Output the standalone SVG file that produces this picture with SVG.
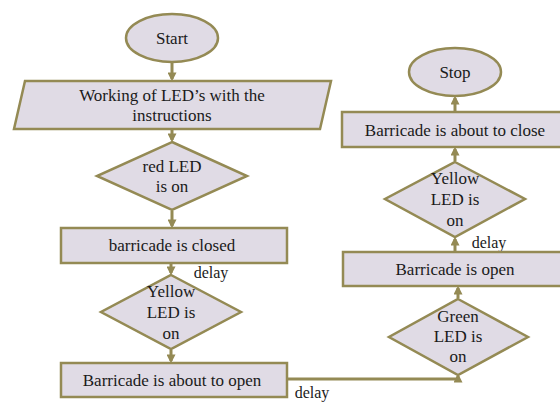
<svg xmlns="http://www.w3.org/2000/svg" width="560" height="405" viewBox="0 0 560 405">
<defs>
<style>
.s{fill:#e0dbe5;stroke:#948a54;stroke-width:2.5}
.t{font-family:'Liberation Serif','DejaVu Serif',serif;font-size:17px;fill:#1a1a1a;text-anchor:middle}
.d{font-family:'Liberation Serif','DejaVu Serif',serif;font-size:16px;fill:#1a1a1a;text-anchor:middle}
.c{fill:none;stroke:#948a54;stroke-width:3}
</style>
<marker id="a" markerWidth="3" markerHeight="3" refX="2.2" refY="1.5" orient="auto" markerUnits="strokeWidth">
<path d="M0,0 L3,1.5 L0,3 Z" fill="#948a54"/>
</marker>
</defs>
<rect width="560" height="405" fill="#fff"/>
<g id="connectors">
<line class="c" x1="172" y1="62" x2="172" y2="79" marker-end="url(#a)"/>
<line class="c" x1="172" y1="130" x2="172" y2="140" marker-end="url(#a)"/>
<line class="c" x1="172" y1="211" x2="172" y2="226" marker-end="url(#a)"/>
<line class="c" x1="171" y1="264" x2="171" y2="273" marker-end="url(#a)"/>
<line class="c" x1="171" y1="350" x2="171" y2="361" marker-end="url(#a)"/>
<polyline class="c" points="288,379 458,379 458,376" marker-end="url(#a)"/>
<line class="c" x1="458" y1="298" x2="458" y2="288" marker-end="url(#a)"/>
<line class="c" x1="455" y1="251" x2="455" y2="239" marker-end="url(#a)"/>
<line class="c" x1="455" y1="161" x2="455" y2="149" marker-end="url(#a)"/>
<line class="c" x1="455" y1="111" x2="455" y2="98" marker-end="url(#a)"/>
<text class="d" x="211" y="278">delay</text>
<text class="d" x="312" y="398">delay</text>
<text class="d" x="489" y="248">delay</text>
</g>
<g id="start">
<ellipse class="s" cx="172" cy="38" rx="46" ry="24"/>
<text class="t" x="172" y="44">Start</text>
</g>
<g id="working">
<polygon class="s" points="25,81 331,81 320,129 14,129"/>
<text class="t" x="172" y="101">Working of LED’s with the</text>
<text class="t" x="172" y="121">instructions</text>
</g>
<g id="redled">
<polygon class="s" points="172,142 247,176 172,210 97,176"/>
<text class="t" x="172" y="172">red LED</text>
<text class="t" x="172" y="192">is on</text>
</g>
<g id="closed">
<rect class="s" x="61" y="228" width="226" height="35"/>
<text class="t" x="172" y="251">barricade is closed</text>
</g>
<g id="yellow1">
<polygon class="s" points="171,275 241,312 171,349 101,312"/>
<text class="t" x="171" y="297">Yellow</text>
<text class="t" x="171" y="318">LED is</text>
<text class="t" x="171" y="339">on</text>
</g>
<g id="abouttoopen">
<rect class="s" x="61" y="363" width="226" height="34"/>
<text class="t" x="172" y="386">Barricade is about to open</text>
</g>
<g id="green">
<polygon class="s" points="458,299 528,337 458,375 389,337"/>
<text class="t" x="458" y="322">Green</text>
<text class="t" x="458" y="342">LED is</text>
<text class="t" x="458" y="362">on</text>
</g>
<g id="open">
<rect class="s" x="343" y="252" width="227" height="34"/>
<text class="t" x="455" y="275">Barricade is open</text>
</g>
<g id="yellow2">
<polygon class="s" points="455,162 525,199 455,237 385,199"/>
<text class="t" x="455" y="184">Yellow</text>
<text class="t" x="455" y="205">LED is</text>
<text class="t" x="455" y="226">on</text>
</g>
<g id="abouttoclose">
<rect class="s" x="342" y="112" width="228" height="35"/>
<text class="t" x="455" y="136">Barricade is about to close</text>
</g>
<g id="stop">
<ellipse class="s" cx="455" cy="72" rx="46" ry="24"/>
<text class="t" x="455" y="78">Stop</text>
</g>
</svg>
